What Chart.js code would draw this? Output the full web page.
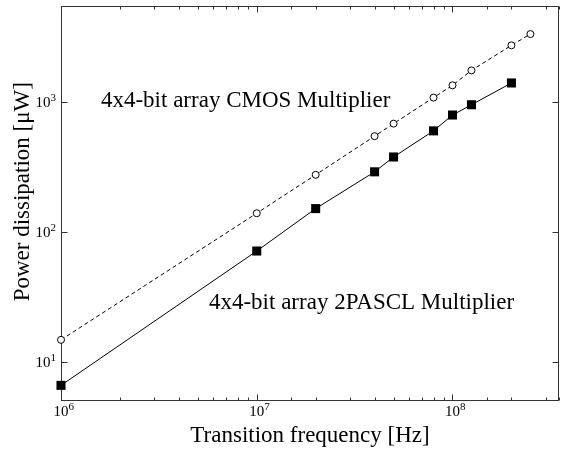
<!DOCTYPE html>
<html>
<head>
<meta charset="utf-8">
<script src="https://cdn.jsdelivr.net/npm/chart.js@4.4.0/dist/chart.umd.min.js"></script>
<style>
  html, body { margin: 0; padding: 0; background: #fff; }
  #wrap { width: 569px; height: 451px; }
</style>
</head>
<body>
<div id="wrap"><canvas id="powerChart"></canvas></div>
<script>
// data (frequency in Hz, power in uW)
const freqCmos = [1e6, 1e7, 2e7, 4e7, 5e7, 8e7, 1e8, 1.25e8, 2e8, 2.5e8];
const powerCmos = [14.8, 140, 277, 550, 687, 1090, 1356, 1766, 2757, 3366];
const freq2pascl = [1e6, 1e7, 2e7, 4e7, 5e7, 8e7, 1e8, 1.25e8, 2e8];
const power2pascl = [6.6, 71.6, 152, 292, 380, 604, 800, 960, 1413];
const xMajorTicks = [1e6, 1e7, 1e8];
const yMajorTicks = [1e1, 1e2, 1e3];
const labelCmos = "4x4-bit array CMOS Multiplier";
const label2pascl = "4x4-bit array 2PASCL Multiplier";
const yTitle = "Power dissipation [\u03bcW]";

const SERIF = '"Liberation Serif", "DejaVu Serif", serif';
const AXIS = '#333';

function isMajor(v) {
  const l = Math.log10(v);
  return Math.abs(l - Math.round(l)) < 1e-9;
}
function toPoints(xs, ys) {
  return xs.map((x, i) => ({ x: x, y: ys[i] }));
}

// "10" with a raised exponent; anchor: 'center' = base centred on px, 'right' = whole label ends at px
function drawPow(ctx, v, px, py, anchor) {
  const base = '10', exp = String(Math.round(Math.log10(v)));
  ctx.font = '15px ' + SERIF;
  const wb = ctx.measureText(base).width;
  ctx.font = '11px ' + SERIF;
  const we = ctx.measureText(exp).width;
  const x0 = anchor === 'center' ? px - wb / 2 : px - wb - we;
  ctx.font = '15px ' + SERIF;
  ctx.fillText(base, x0, py);
  ctx.font = '11px ' + SERIF;
  ctx.fillText(exp, x0 + wb, py - 6);
}

/* frame, inward ticks on all four sides, tick labels and y title */
const frameTicks = {
  id: 'frameTicks',
  beforeDatasetsDraw(chart) {
    const { ctx, chartArea: a, scales: { x, y } } = chart;
    const L = Math.round(a.left) + 0.5, R = Math.round(a.right) - 0.5;
    const T = Math.round(a.top) + 0.5, B = Math.round(a.bottom) - 0.5;
    ctx.save();
    ctx.strokeStyle = AXIS;
    ctx.lineWidth = 1;
    ctx.strokeRect(L, T, R - L, B - T);
    ctx.beginPath();
    x.ticks.forEach(t => {
      const px = Math.round(x.getPixelForValue(t.value)) + 0.5;
      const len = isMajor(t.value) ? 6 : 3;
      ctx.moveTo(px, B); ctx.lineTo(px, B - len);
      ctx.moveTo(px, T); ctx.lineTo(px, T + len);
    });
    y.ticks.forEach(t => {
      const py = Math.round(y.getPixelForValue(t.value)) + 0.5;
      ctx.moveTo(L, py); ctx.lineTo(L + 6, py);
      ctx.moveTo(R, py); ctx.lineTo(R - 6, py);
    });
    ctx.stroke();

    ctx.fillStyle = '#000';
    ctx.textAlign = 'left';
    ctx.textBaseline = 'alphabetic';
    xMajorTicks.forEach(v => drawPow(ctx, v, x.getPixelForValue(v), a.bottom + 15, 'center'));
    yMajorTicks.forEach(v => drawPow(ctx, v, a.left - 5, y.getPixelForValue(v) + 5, 'right'));

    // y axis title, sitting a little above the middle as in the source figure
    ctx.font = '23px ' + SERIF;
    ctx.textAlign = 'center';
    ctx.textBaseline = 'middle';
    ctx.translate(23, (a.top + a.bottom) / 2 - 12);
    ctx.rotate(-Math.PI / 2);
    ctx.fillText(yTitle, 0, 0);
    ctx.restore();
  }
};

/* the two curve labels, anchored in data space */
const curveLabels = {
  id: 'curveLabels',
  afterDatasetsDraw(chart, args, opts) {
    const { ctx, scales: { x, y } } = chart;
    ctx.save();
    ctx.font = opts.font;
    ctx.fillStyle = '#000';
    ctx.textBaseline = 'middle';
    opts.items.forEach(it => {
      ctx.fillText(it.text, x.getPixelForValue(it.x), y.getPixelForValue(it.y));
    });
    ctx.restore();
  }
};

new Chart(document.getElementById('powerChart'), {
  type: 'line',
  data: {
    datasets: [
      {
        label: labelCmos,
        data: toPoints(freqCmos, powerCmos),
        borderColor: '#000',
        borderWidth: 1,
        borderDash: [4, 3],
        pointStyle: 'circle',
        pointRadius: 3.5,
        pointBorderWidth: 1,
        pointBorderColor: '#000',
        pointBackgroundColor: '#fff',
        clip: false
      },
      {
        label: label2pascl,
        data: toPoints(freq2pascl, power2pascl),
        borderColor: '#000',
        borderWidth: 1,
        pointStyle: 'rect',
        pointRadius: 6.4,
        pointBorderWidth: 0,
        pointBackgroundColor: '#000',
        clip: false
      }
    ]
  },
  options: {
    responsive: true,
    maintainAspectRatio: false,
    animation: false,
    layout: { padding: { top: 3, right: 10, left: 0, bottom: 0 } },
    plugins: {
      legend: { display: false },
      tooltip: { enabled: false },
      curveLabels: {
        font: '23px ' + SERIF,
        items: [
          { text: labelCmos, x: 1.6e6, y: 1030 },
          { text: label2pascl, x: 5.7e6, y: 28.7 }
        ]
      }
    },
    scales: {
      x: {
        type: 'logarithmic',
        min: 1e6,
        max: 3.5e8,
        grid: { display: false },
        border: { display: false },
        afterFit: s => { s.height = 50; s.paddingLeft = 0; s.paddingRight = 0; },
        ticks: { display: false, autoSkip: false },
        title: {
          display: true,
          text: 'Transition frequency [Hz]',
          color: '#000',
          font: { family: SERIF, size: 23 },
          padding: { top: 0, bottom: 1 }
        }
      },
      y: {
        type: 'logarithmic',
        min: 5,
        max: 5500,
        grid: { display: false },
        border: { display: false },
        afterFit: s => { s.width = 61; s.paddingTop = 0; s.paddingBottom = 0; },
        afterBuildTicks: s => { s.ticks = yMajorTicks.map(v => ({ value: v })); },
        ticks: { display: false },
        title: { display: false }
      }
    }
  },
  plugins: [frameTicks, curveLabels]
});
</script>
</body>
</html>
